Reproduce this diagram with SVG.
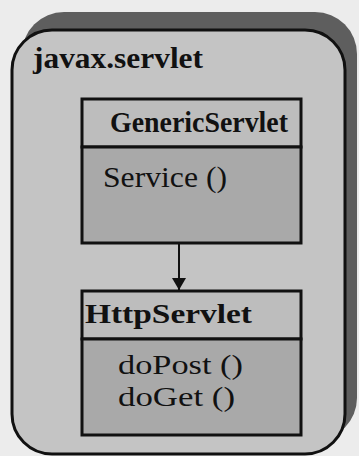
<svg xmlns="http://www.w3.org/2000/svg" width="359" height="456" viewBox="0 0 359 456">
  <style>
    .pkg { fill: #c4c4c4; stroke: #111; stroke-width: 3; }
    .box { stroke: #111; stroke-width: 3; }
    .hdr { fill: #bdbdbd; }
    .bdy { fill: #a9a9a9; }
    .bold { font-family: "Liberation Serif", "Times New Roman", serif; font-weight: bold; fill: #111; }
    .reg { font-family: "Liberation Serif", "Times New Roman", serif; fill: #111; }
    .conn { stroke: #111; stroke-width: 2; fill: none; }
  </style>
  <defs>
    <marker id="arrowhead" markerWidth="14" markerHeight="14" refX="12" refY="7" orient="auto" markerUnits="userSpaceOnUse">
      <path d="M0,0 L12,7 L0,14 Z" fill="#111"/>
    </marker>
  </defs>

  <!-- page background -->
  <rect x="0" y="0" width="359" height="456" fill="#ececec"/>

  <!-- package frame with drop shadow -->
  <g id="package">
    <rect x="22" y="12" width="335" height="428" rx="42" fill="#5e5e5e"/>
    <rect class="pkg" x="12" y="30" width="333" height="424" rx="40"/>
    <text class="bold" x="33" y="68" font-size="29" textLength="170" lengthAdjust="spacingAndGlyphs">javax.servlet</text>
  </g>

  <!-- GenericServlet class -->
  <g id="GenericServlet">
    <rect class="box hdr" x="82" y="99" width="219" height="48"/>
    <rect class="box bdy" x="82" y="147" width="219" height="96"/>
    <text class="bold" x="110" y="132" font-size="29" textLength="178" lengthAdjust="spacingAndGlyphs">GenericServlet</text>
    <text class="reg" x="103" y="187" font-size="29" textLength="124" lengthAdjust="spacingAndGlyphs">Service ()</text>
  </g>

  <!-- HttpServlet class -->
  <g id="HttpServlet">
    <rect class="box hdr" x="82" y="291" width="219" height="48"/>
    <rect class="box bdy" x="82" y="339" width="219" height="96"/>
    <text class="bold" x="85" y="323" font-size="28" textLength="167" lengthAdjust="spacingAndGlyphs">HttpServlet</text>
    <text class="reg" x="118" y="374" font-size="27" textLength="125" lengthAdjust="spacingAndGlyphs">doPost ()</text>
    <text class="reg" x="118" y="406" font-size="27" textLength="117" lengthAdjust="spacingAndGlyphs">doGet ()</text>
  </g>

  <!-- connectors -->
  <g id="connectors">
    <line class="conn" x1="179" y1="244" x2="179" y2="290" marker-end="url(#arrowhead)"/>
  </g>
</svg>
